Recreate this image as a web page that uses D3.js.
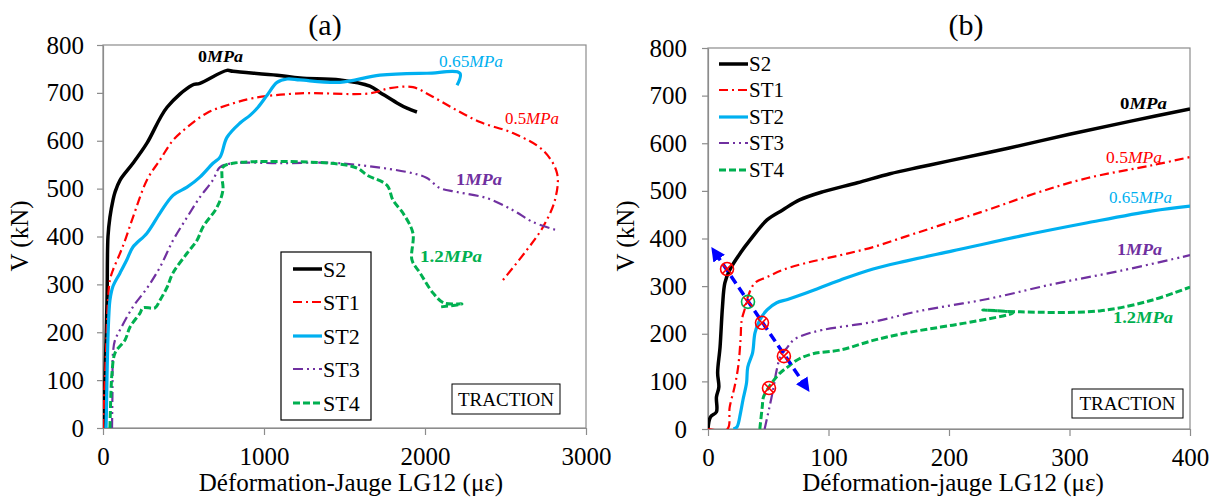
<!DOCTYPE html>
<html><head><meta charset="utf-8">
<script src="https://cdn.jsdelivr.net/npm/d3@7/dist/d3.min.js"></script>
<style>body{margin:0;background:#fff}svg{display:block}text{font-family:"Liberation Serif","Times New Roman",serif}</style>
</head><body><svg id="c" width="1218" height="497"></svg>
<script>
// ---------- DATA ----------
const seriesNames = ["S2","ST1","ST2","ST3","ST4"];
const yTicks = [0,100,200,300,400,500,600,700,800];
const aXTicks = [0,1000,2000,3000];
const bXTicks = [0,100,200,300,400];
// panel (a) : [strain (µε), V (kN)]
const aS2 = [[0,0],[12,100],[25,267],[31,400],[43,440],[62,476],[75,493],[106,518],[186,553],[273,595],[398,670],[553,716],[602,720],[770,747],[807,745],[1081,737],[1224,731],[1472,727],[1658,714],[1720,701],[1826,679],[1888,668],[1950,660]];
const aST1 = [[0,0],[6,58],[19,163],[31,267],[43,309],[62,330],[106,365],[137,392],[186,440],[273,518],[354,560],[435,601],[522,628],[646,658],[770,674],[932,689],[1224,699],[1658,699],[1783,710],[1925,712],[2031,695],[2174,668],[2342,639],[2546,616],[2733,580],[2820,532],[2807,476],[2733,420],[2633,372],[2484,309]];
const aST2 = [[19,0],[22,50],[25,110],[30,180],[37,240],[43,267],[62,296],[106,324],[149,352],[186,378],[273,407],[354,449],[435,486],[522,503],[602,524],[683,553],[727,566],[770,607],[851,637],[913,653],[963,670],[1019,695],[1081,722],[1143,729],[1224,727],[1472,722],[1720,737],[2012,741],[2217,741],[2199,716]];
const aST3 = [[56,0],[59,80],[62,157],[75,184],[106,205],[186,253],[273,292],[354,336],[435,392],[522,440],[602,482],[683,518],[727,545],[807,553],[1099,553],[1472,553],[1925,532],[2012,522],[2093,501],[2199,493],[2385,480],[2546,455],[2671,430],[2820,413]];
const aST4 = [[43,0],[50,79],[56,115],[75,157],[137,184],[168,211],[230,240],[248,251],[323,251],[354,267],[398,294],[435,324],[522,365],[584,392],[621,420],[708,461],[745,497],[739,524],[745,545],[807,553],[1410,553],[1578,543],[1640,528],[1764,507],[1801,476],[1863,449],[1925,407],[1919,351],[1969,324],[2050,282],[2118,261],[2230,259],[2100,253]];
// panel (b)
const bS2 = [[0,0],[2,25],[7,36],[7,67],[9,88],[8,118],[10,172],[12,256],[14,307],[18,334],[27,370],[35,397],[49,439],[62,460],[76,481],[95,498],[124,517],[151,536],[176,550],[200,563],[250,590],[300,619],[350,646],[400,672]];
const bST1 = [[0,0],[16,0],[18,46],[22,88],[25,130],[27,187],[28,229],[31,256],[33,277],[39,307],[49,319],[62,334],[82,349],[110,365],[137,382],[165,405],[193,428],[232,460],[273,496],[315,527],[369,554],[400,571]];
const bST2 = [[21,0],[24,4],[27,34],[29,61],[32,97],[33,130],[37,160],[39,202],[43,229],[49,250],[57,265],[66,272],[82,286],[110,313],[137,336],[165,353],[203,374],[259,405],[315,433],[369,458],[400,468]];
const bST3 = [[47,0],[51,46],[54,82],[57,124],[60,151],[66,172],[71,187],[79,197],[95,208],[137,225],[176,248],[232,273],[286,304],[342,332],[400,365]];
const bST4 = [[43,0],[45,46],[46,67],[49,82],[53,97],[60,118],[66,130],[74,145],[87,158],[110,166],[137,186],[165,202],[193,214],[217,224],[253,244],[228,250],[259,246],[325,248],[369,271],[400,298]];
const bMarkers = [[15.8,336],[33.2,267],[44.8,223],[63,153],[50.6,86]];
const bMarkerColors = ["#FF0000","#00B050","#FF0000","#FF0000","#FF0000"];
const bArrow = [[6,370],[81,90]];
const pressureLabels = ["0","0.5","0.65","1","1.2"];

// ---------- STYLE ----------
const colors = ["#000000","#FF0000","#00B0F0","#7030A0","#00B050"];
const widths = [3.5,2.2,3.2,2.2,3];
const dashes = [null,"9,4,2,4","", "10,4,2,4,2,4","7,3"];
const gray = "#8c8c8c";
const svg = d3.select("#c");
const defs = svg.append("defs");
defs.append("marker").attr("id","arr").attr("viewBox","0 0 10 10").attr("refX",5).attr("refY",5)
  .attr("markerWidth",4).attr("markerHeight",4).attr("orient","auto-start-reverse").attr("markerUnits","strokeWidth")
  .append("path").attr("d","M0,0L10,5L0,10z").attr("fill","#0000FF");

function panel(cfg){
  const x = d3.scaleLinear().domain(cfg.xd).range(cfg.xr);
  const y = d3.scaleLinear().domain([0,800]).range(cfg.yr);
  const g = svg.append("g");
  const cid = "clip"+cfg.id;
  defs.append("clipPath").attr("id",cid).append("rect")
    .attr("x",cfg.xr[0]).attr("y",cfg.yr[1]).attr("width",cfg.xr[1]-cfg.xr[0]).attr("height",cfg.yr[0]-cfg.yr[1]);
  g.append("rect").attr("x",cfg.xr[0]).attr("y",cfg.yr[1]).attr("width",cfg.xr[1]-cfg.xr[0]).attr("height",cfg.yr[0]-cfg.yr[1])
    .attr("fill","none").attr("stroke",gray).attr("stroke-width",1.2);
  const ax = g.append("g").attr("transform",`translate(0,${cfg.yr[0]})`)
    .call(d3.axisBottom(x).tickValues(cfg.xt).tickSize(7).tickSizeOuter(0).tickPadding(12).tickFormat(d3.format("d")));
  const ay = g.append("g").attr("transform",`translate(${cfg.xr[0]},0)`)
    .call(d3.axisLeft(y).tickValues(yTicks).tickSize(6).tickSizeOuter(0).tickPadding(cfg.yPad).tickFormat(d3.format("d")));
  [ax,ay].forEach(a=>{
    a.attr("font-family",null).attr("font-size",null);
    a.selectAll("path.domain").attr("stroke",gray).attr("stroke-width",1.2);
    a.selectAll(".tick line").attr("stroke",gray).attr("stroke-width",1.2);
    a.selectAll(".tick text").attr("font-size",25).attr("fill","#000");
  });
  ax.selectAll(".tick text").attr("dy","0.71em");
  g.append("text").attr("x",cfg.titleX).attr("y",35).attr("text-anchor","middle").attr("font-size",30).text(cfg.title);
  g.append("text").attr("x",cfg.xlabX).attr("y",491).attr("text-anchor","middle").attr("font-size",25).text(cfg.xlabel);
  g.append("text").attr("transform",`translate(${cfg.ylabX},236) rotate(-90)`).attr("text-anchor","middle").attr("font-size",25).text("V (kN)");
  const line = d3.line().x(d=>x(d[0])).y(d=>y(d[1])).curve(d3.curveCatmullRom.alpha(0.5));
  const cg = g.append("g").attr("clip-path",`url(#${cid})`);
  cfg.data.forEach((s,i)=>{
    cg.append("path").attr("d",line(s)).attr("fill","none").attr("stroke",colors[i])
      .attr("stroke-width",widths[i]).attr("stroke-dasharray",dashes[i]||null)
      .attr("stroke-linejoin","round");
  });
  const tb = cfg.trac;
  g.append("rect").attr("x",tb[0]).attr("y",tb[1]).attr("width",tb[2]).attr("height",tb[3]).attr("fill","#fff").attr("stroke","#000").attr("stroke-width",1);
  g.append("text").attr("x",tb[0]+tb[2]/2).attr("y",tb[1]+tb[3]/2+6.5).attr("text-anchor","middle").attr("font-size",19).text("TRACTION");
  cfg.labels.forEach((L,i)=>{
    const t = g.append("text").attr("x",L[0]).attr("y",L[1]).attr("fill",colors[i]).attr("font-size",16)
      .attr("font-weight",L[3]?"bold":"normal").attr("textLength",L[2]).attr("lengthAdjust","spacingAndGlyphs");
    t.append("tspan").text(pressureLabels[i]);
    t.append("tspan").attr("font-style","italic").text("MPa");
  });
  return {x,y,g};
}

const A = panel({id:"a",xd:[0,3000],xr:[103,586],yr:[428,45],xt:aXTicks,yPad:13,title:"(a)",titleX:325,xlabX:351,
  xlabel:"Déformation-Jauge LG12 (με)",ylabX:28,data:[aS2,aST1,aST2,aST3,aST4],trac:[452,384,108,30],
  labels:[[198,62,45,true],[505,124,54,false],[439,67,64,false],[456,185,46,true],[420,262,62,true]]});
const B = panel({id:"b",xd:[0,400],xr:[708,1190],yr:[429,48],xt:bXTicks,yPad:15,title:"(b)",titleX:966,xlabX:953,
  xlabel:"Déformation-jauge LG12 (με)",ylabX:634,data:[bS2,bST1,bST2,bST3,bST4],trac:[1072,389,111,29],
  labels:[[1120,109,47,true],[1106,163,56,false],[1109,203,63,false],[1117,255,45,true],[1113,323,60,true]]});

// legend (a)
const la = A.g.append("g");
la.append("rect").attr("x",281).attr("y",252).attr("width",90).attr("height",168).attr("fill","#fff").attr("stroke","#000").attr("stroke-width",1.2);
const laY = [269,302,336,369,403];
seriesNames.forEach((n,i)=>{
  la.append("line").attr("x1",293).attr("x2",322).attr("y1",laY[i]).attr("y2",laY[i]).attr("stroke",colors[i])
    .attr("stroke-width",widths[i]).attr("stroke-dasharray",dashes[i]||null);
  la.append("text").attr("x",323).attr("y",laY[i]+8).attr("font-size",22).text(n);
});
// legend (b)
const lb = B.g.append("g");
const lbY = [64,90,117,143,170];
seriesNames.forEach((n,i)=>{
  lb.append("line").attr("x1",719).attr("x2",748).attr("y1",lbY[i]).attr("y2",lbY[i]).attr("stroke",colors[i])
    .attr("stroke-width",widths[i]).attr("stroke-dasharray",dashes[i]||null);
  lb.append("text").attr("x",749).attr("y",lbY[i]+7).attr("font-size",21).text(n);
});
// arrow and markers (b)
B.g.append("line").attr("x1",B.x(bArrow[0][0])).attr("y1",B.y(bArrow[0][1])).attr("x2",B.x(bArrow[1][0])).attr("y2",B.y(bArrow[1][1]))
  .attr("stroke","#0000FF").attr("stroke-width",3.5).attr("stroke-dasharray","9,5")
  .attr("marker-start","url(#arr)").attr("marker-end","url(#arr)");
bMarkers.forEach((m,i)=>{
  const cx=B.x(m[0]), cy=B.y(m[1]), r=6.5, k=r*0.7;
  B.g.append("circle").attr("cx",cx).attr("cy",cy).attr("r",r).attr("fill","none").attr("stroke",bMarkerColors[i]).attr("stroke-width",1.6);
  B.g.append("path").attr("d",`M${cx-k},${cy-k}L${cx+k},${cy+k}M${cx-k},${cy+k}L${cx+k},${cy-k}`).attr("stroke","#FF0000").attr("stroke-width",1.6);
});
</script></body></html>
